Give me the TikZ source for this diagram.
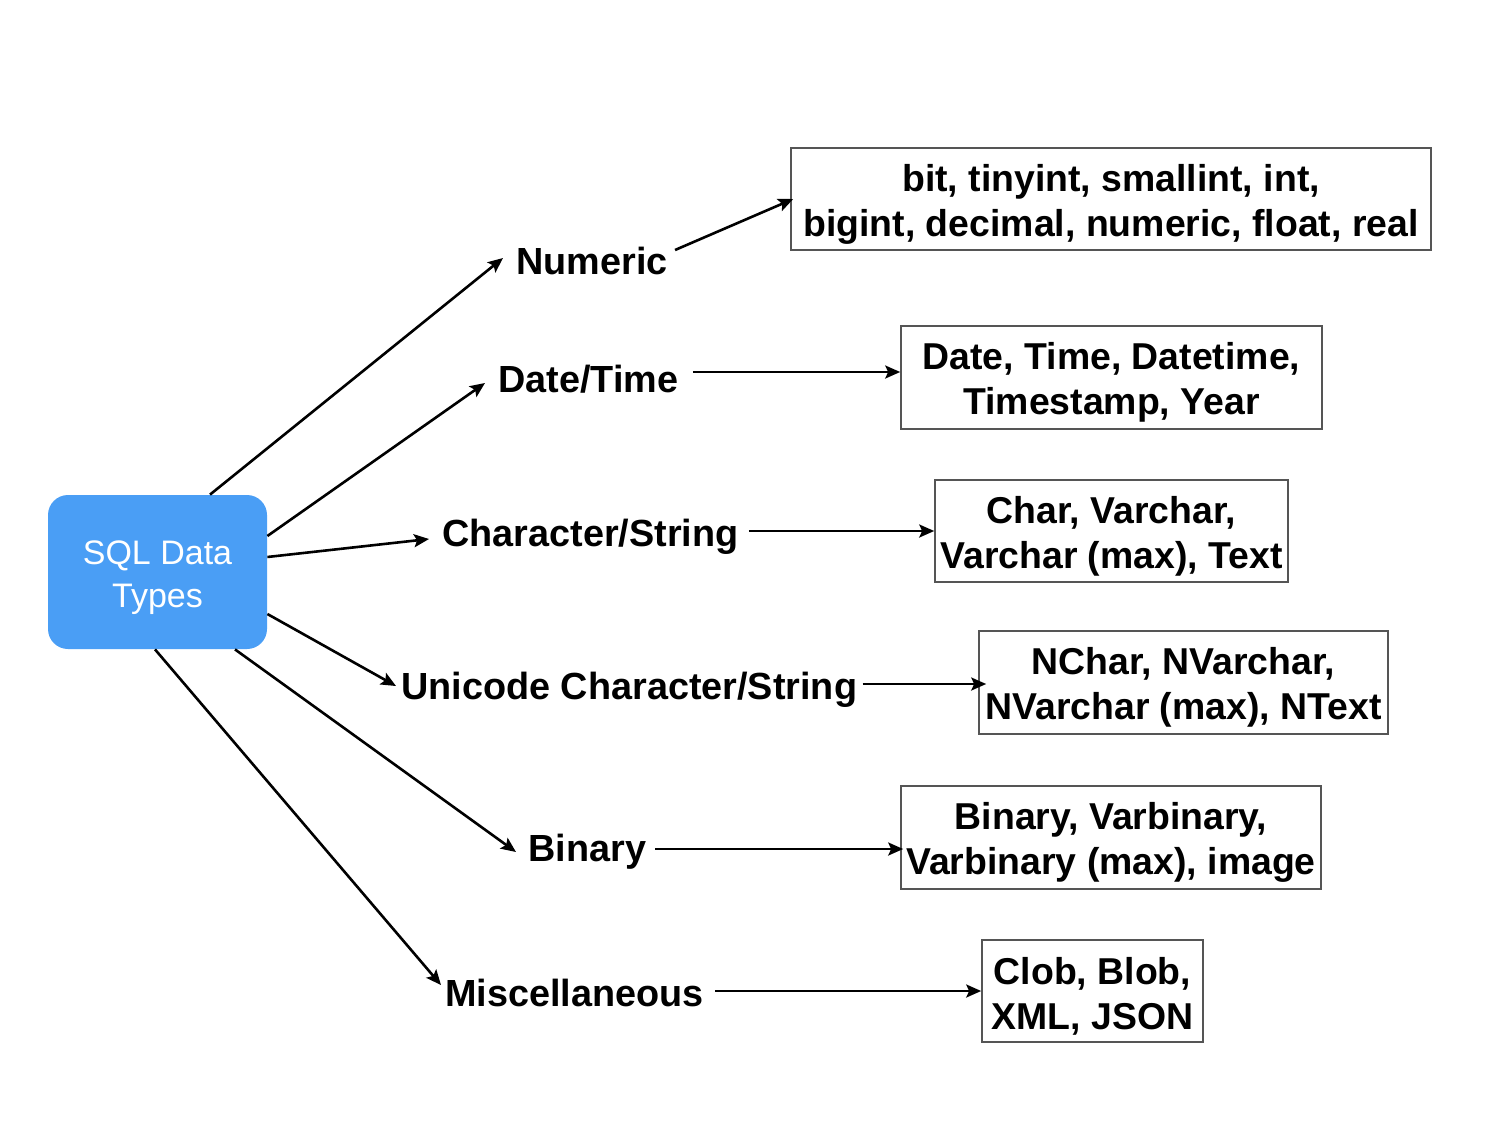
\documentclass[tikz,border=0pt]{standalone}
\usepackage{fontspec}
\setmainfont{Liberation Sans}
\usetikzlibrary{arrows.meta,calc}
\definecolor{sqlblue}{RGB}{74,158,245}
\definecolor{boxgray}{RGB}{85,85,85}
\begin{document}
\begin{tikzpicture}[x=0.5pt,y=-0.5pt,
  conn/.style={line width=1.3pt,-{Stealth[length=7.5pt,width=6.5pt,inset=1.5pt]}},
  cat/.style={font=\bfseries\fontsize{18.9pt}{22.5pt}\selectfont, inner sep=0pt, text height=13.5pt, text depth=0pt, anchor=west},
  typebox/.style={draw=boxgray,line width=0.8pt,font=\bfseries\fontsize{18.7pt}{22.5pt}\selectfont,align=center,inner sep=0pt,text height=41pt},
  rootbox/.style={fill=sqlblue, rounded corners=10pt, text=white, align=center, font=\fontsize{17pt}{21.5pt}\selectfont, inner sep=0pt, text height=39.5pt}
]
\useasboundingbox (0,0) rectangle (1504,1140);

% root
\node[rootbox, minimum width=109.5pt, minimum height=77pt] (sql) at (157.5,572) {SQL Data\\Types};

% categories
\node[cat] (num)  at (516,261) {Numeric};
\node[cat] (dt)   at (498,379) {Date/Time};
\node[cat] (cs)   at (442,533) {Character/String};
\node[cat] (uc)   at (401,686) {Unicode Character/String};
\node[cat] (bin)  at (528,848) {Binary};
\node[cat] (misc) at (445,993) {Miscellaneous};

% type boxes
\node[typebox, minimum width=320pt,   minimum height=51pt]   (b1) at (1111,199)    {bit, tinyint, smallint, int,\\bigint, decimal, numeric, float, real};
\node[typebox, minimum width=210.5pt, minimum height=51.5pt] (b2) at (1111.5,377.5) {Date, Time, Datetime,\\Timestamp, Year};
\node[typebox, minimum width=176.5pt, minimum height=51pt]   (b3) at (1111.5,531)  {Char, Varchar,\\Varchar (max), Text};
\node[typebox, minimum width=204.5pt, minimum height=51.5pt] (b4) at (1183.5,682.5) {NChar, NVarchar,\\NVarchar (max), NText};
\node[typebox, minimum width=210pt,   minimum height=51.5pt] (b5) at (1111,837.5)  {Binary, Varbinary,\\Varbinary (max), image};
\node[typebox, minimum width=110.5pt, minimum height=51pt]   (b6) at (1092.5,991)  {Clob, Blob,\\XML, JSON};

% root -> categories
\draw[conn] ($(sql.north)+(52.5,0)$) -- ($(num.west)+(-13,-3)$);
\draw[conn] ($(sql.east)+(0,-36)$)   -- ($(dt.west)+(-13,4)$);
\draw[conn] ($(sql.east)+(0,-15)$)   -- ($(cs.west)+(-13,6)$);
\draw[conn] ($(sql.east)+(0,42)$)    -- ($(uc.west)+(-5,0)$);
\draw[conn] ($(sql.south)+(77.5,0)$) -- ($(bin.west)+(-12,4)$);
\draw[conn] ($(sql.south)+(-2.5,0)$) -- ($(misc.west)+(-4,-8)$);

% categories -> boxes
\draw[conn] ($(num.east)+(7,-11)$) -- ($(b1.west)+(3,0)$);
\coordinate (dts) at ($(dt.east)+(14,-7)$);
\draw[conn] (dts) -- (dts -| b2.west);
\coordinate (css) at ($(cs.east)+(10,-2)$);
\draw[conn] (css) -- (css -| b3.west);
\coordinate (ucs) at ($(uc.east)+(5,-2)$);
\draw[conn] (ucs) -- ($(ucs -| b4.west)+(8,0)$);
\coordinate (bins) at ($(bin.east)+(9,1)$);
\draw[conn] (bins) -- ($(bins -| b5.west)+(3,0)$);
\coordinate (miscs) at ($(misc.east)+(11,-2)$);
\draw[conn] (miscs) -- (miscs -| b6.west);
\end{tikzpicture}
\end{document}
